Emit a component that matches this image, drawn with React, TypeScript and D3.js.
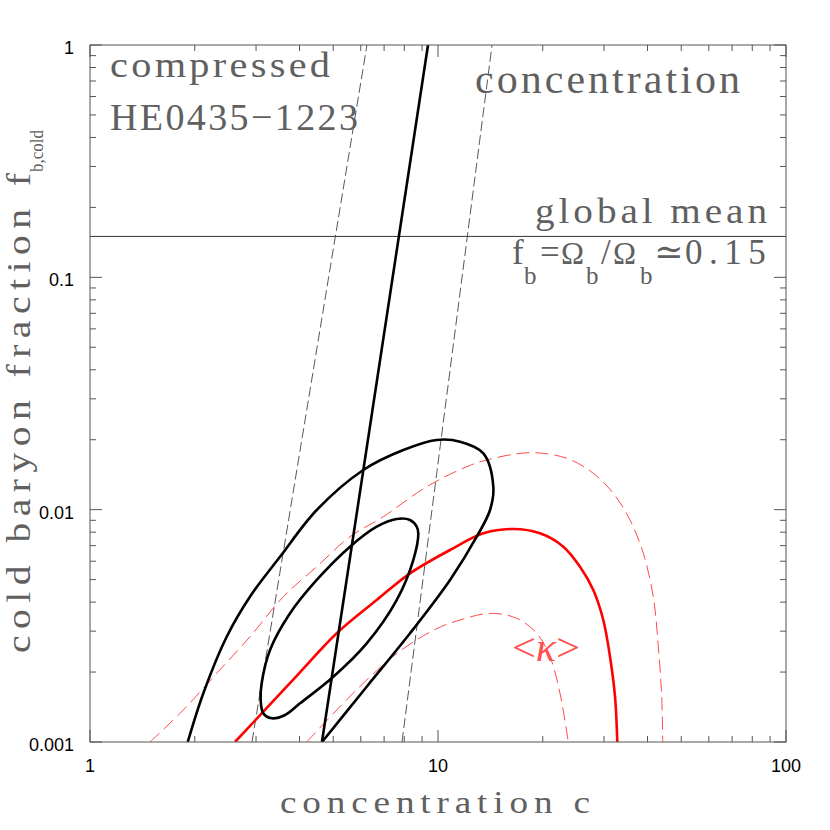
import React from "react";
import * as d3 from "d3";

// ---- data (concentration c, cold baryon fraction f) ----
const xTicks = [1, 10, 100];
const yTicks = [0.001, 0.01, 0.1, 1];
const xTickLabels = ["1", "10", "100"];
const yTickLabels = ["0.001", "0.01", "0.1", "1"];
const globalMean = 0.15;

const lensingLine: [number, number][] = [[4.64, 0.001], [9.36, 1]];
const dashLeft: [number, number][] = [[2.92, 0.001], [6.25, 1]];
const dashRight: [number, number][] = [[7.88, 0.001], [14.3, 1]];

const outerContour: [number, number][] = [
  [1.909, 0.001], [2.117, 0.001622], [2.471, 0.002839], [2.9, 0.00428],
  [3.516, 0.006272], [4.482, 0.009966], [6.1, 0.01482], [7.95, 0.01806],
  [9.914, 0.01995], [11.57, 0.01962], [13.5, 0.01748], [14.42, 0.01256],
  [14.11, 0.009966], [12.92, 0.00765], [10.83, 0.004981], [8.31, 0.002937],
  [6.239, 0.00173], [4.642, 0.001],
];

const innerContour: [number, number][] = [
  [3.148, 0.001328], [3.328, 0.001265], [3.634, 0.001307], [4.013, 0.001467],
  [5.003, 0.00191], [6.239, 0.002659], [7.607, 0.004084], [8.492, 0.006071],
  [8.778, 0.007913], [8.685, 0.008446], [8.31, 0.009026], [7.607, 0.009117],
  [6.666, 0.008446], [5.586, 0.006929], [4.482, 0.004981], [3.757, 0.00358],
  [3.291, 0.002489], [3.114, 0.001789], [3.093, 0.001516],
];

const kappaMean: [number, number][] = [
  [2.61, 0.001], [3.148, 0.00135], [4.013, 0.001995], [5.117, 0.002937],
  [6.666, 0.004084], [8.31, 0.005322], [10.83, 0.006706], [13.5, 0.007913],
  [16.46, 0.008254], [19.64, 0.007913], [22.91, 0.006929], [25.59, 0.005682],
  [27.94, 0.00451], [29.85, 0.00335], [31.21, 0.002329], [32.26, 0.001567],
  [32.75, 0.001],
];

const kappaUpper: [number, number][] = [
  [1.487, 0.001], [1.854, 0.001373], [2.312, 0.001975], [2.883, 0.002839],
  [3.593, 0.00422], [4.482, 0.005682], [5.586, 0.00765], [6.963, 0.009326],
  [9.28, 0.01256], [12.09, 0.0153], [13.8, 0.01636], [18.38, 0.01759],
  [23.43, 0.01664], [27.94, 0.01434], [31.89, 0.01176], [35.63, 0.009026],
  [38.9, 0.00649], [41.56, 0.00422], [42.96, 0.002572], [43.94, 0.001567],
  [44.23, 0.001],
];

const kappaLower: [number, number][] = [
  [4.195, 0.001], [5.117, 0.001373], [6.239, 0.001849], [7.778, 0.002464],
  [9.869, 0.003065], [11.57, 0.00335], [14.11, 0.00358], [16.83, 0.003407],
  [19.21, 0.002937], [20.98, 0.002329], [22.41, 0.001622], [23.68, 0.001],
];

const minorMult = [2, 3, 4, 5, 6, 7, 8, 9];

const SERIF = "'Liberation Serif', 'DejaVu Serif', serif";
const TEXT_GRAY = "#606060";

// Serif label: widened glyphs plus letter spacing to fill a measured width
function SText(props: {
  x: number; y: number; size: number; len: number; sx?: number; fill?: string; glyphs?: boolean;
  children: React.ReactNode;
}) {
  const sx = props.sx ?? 1.2;
  return (
    <g transform={`translate(${props.x},${props.y}) scale(${sx},1)`}>
      <text x={0} y={0} fontFamily={SERIF} fontSize={props.size} fill={props.fill ?? TEXT_GRAY}
        textLength={props.len / sx} lengthAdjust={props.glyphs ? "spacingAndGlyphs" : "spacing"}>
        {props.children}
      </text>
    </g>
  );
}

export default function App() {
  const L = 90, R = 786, T = 45, B = 742;
  const x = d3.scaleLog().domain([1, 100]).range([L, R]);
  const y = d3.scaleLog().domain([0.001, 1]).range([B, T]);

  const line = d3.line<[number, number]>().x((d) => x(d[0])).y((d) => y(d[1]));
  const smooth = d3.line<[number, number]>().x((d) => x(d[0])).y((d) => y(d[1])).curve(d3.curveCatmullRom.alpha(0.5));
  const closed = d3.line<[number, number]>().x((d) => x(d[0])).y((d) => y(d[1])).curve(d3.curveCatmullRomClosed.alpha(0.5));

  const xMinor: number[] = [];
  [1, 10].forEach((dec) => minorMult.forEach((m) => xMinor.push(dec * m)));
  const yMinor: number[] = [];
  [0.001, 0.01, 0.1].forEach((dec) => minorMult.forEach((m) => yMinor.push(dec * m)));

  const axisColor = "#555";
  const sans = "'Liberation Sans', Arial, sans-serif";
  const MAJ = 12, MIN = 6;
  const fy = 263.5, sy = 284;

  return (
    <svg width={830} height={830} style={{ position: "absolute", left: 0, top: 0, background: "#fff" }}>
      <defs>
        <clipPath id="plotClip">
          <rect x={L} y={T} width={R - L} height={B - T} />
        </clipPath>
      </defs>
      <rect x={0} y={0} width={830} height={830} fill="#fff" />

      {/* ticks */}
      <g stroke={axisColor} strokeWidth={1}>
        {xMinor.map((v, i) => (
          <g key={"xm" + i}>
            <line x1={x(v)} x2={x(v)} y1={B} y2={B - MIN} />
            <line x1={x(v)} x2={x(v)} y1={T} y2={T + MIN} />
          </g>
        ))}
        {xTicks.map((v, i) => (
          <g key={"xM" + i}>
            <line x1={x(v)} x2={x(v)} y1={B} y2={B - MAJ} />
            <line x1={x(v)} x2={x(v)} y1={T} y2={T + MAJ} />
          </g>
        ))}
        {yMinor.map((v, i) => (
          <g key={"ym" + i}>
            <line x1={L} x2={L + MIN} y1={y(v)} y2={y(v)} />
            <line x1={R} x2={R - MIN} y1={y(v)} y2={y(v)} />
          </g>
        ))}
        {yTicks.map((v, i) => (
          <g key={"yM" + i}>
            <line x1={L} x2={L + MAJ} y1={y(v)} y2={y(v)} />
            <line x1={R} x2={R - MAJ} y1={y(v)} y2={y(v)} />
          </g>
        ))}
      </g>

      {/* global mean line */}
      <line x1={L} x2={R} y1={y(globalMean)} y2={y(globalMean)} stroke="#333" strokeWidth={1} />

      <g clipPath="url(#plotClip)" fill="none">
        <path d={line(dashLeft) || ""} stroke="#444" strokeWidth={0.9} strokeDasharray="10,4" />
        <path d={line(dashRight) || ""} stroke="#444" strokeWidth={0.9} strokeDasharray="10,4" />
        <path d={smooth(kappaUpper) || ""} stroke="#ff4a4a" strokeWidth={1} strokeDasharray="13,6" />
        <path d={smooth(kappaLower) || ""} stroke="#ff4a4a" strokeWidth={1} strokeDasharray="13,6" />
        <path d={smooth(kappaMean) || ""} stroke="#ff0000" strokeWidth={2.6} />
        <path d={smooth(outerContour) || ""} stroke="#000" strokeWidth={2.6} />
        <path d={closed(innerContour) || ""} stroke="#000" strokeWidth={2.6} />
        <path d={line(lensingLine) || ""} stroke="#000" strokeWidth={2.6} />
      </g>

      {/* frame */}
      <rect x={L} y={T} width={R - L} height={B - T} fill="none" stroke={axisColor} strokeWidth={1} />

      {/* tick labels */}
      <g fontFamily={sans} fontSize={18} fill="#000">
        {xTicks.map((v, i) => (
          <text key={"xl" + i} x={x(v)} y={771.5} textAnchor="middle">{xTickLabels[i]}</text>
        ))}
        {yTicks.map((v, i) => (
          <text key={"yl" + i} x={74} y={y(v) + 9} textAnchor="end">{yTickLabels[i]}</text>
        ))}
      </g>

      {/* annotations */}
      <SText x={110} y={77} size={36} len={220} sx={1.12}>compressed</SText>
      <SText x={110} y={130} size={38} len={248} sx={1.0}>HE0435−1223</SText>
      <SText x={475} y={92.5} size={40} len={265} sx={1.05}>concentration</SText>
      <SText x={535} y={223} size={35} len={232} sx={1.12}>global mean</SText>

      <text fontFamily={SERIF} fill={TEXT_GRAY} fontSize={35}>
        <tspan x={512} y={fy}>f</tspan>
        <tspan x={524} y={sy} fontSize={25}>b</tspan>
        <tspan x={540} y={fy}>=</tspan>
        <tspan x={561} y={fy} fontSize={31}>Ω</tspan>
        <tspan x={586} y={sy} fontSize={25}>b</tspan>
        <tspan x={601} y={fy}>/</tspan>
        <tspan x={613} y={fy} fontSize={31}>Ω</tspan>
        <tspan x={640} y={sy} fontSize={25}>b</tspan>
        <tspan x={654} y={fy}>≃</tspan>
        <tspan x={685} y={fy} letterSpacing={6.5}>0.15</tspan>
      </text>

      <SText x={280} y={813} size={31} len={310}>concentration c</SText>

      <g transform="translate(30,653) rotate(-90)">
        <SText x={0} y={0} size={33} len={480}>cold baryon fraction f</SText>
        <SText x={481} y={12.5} size={19} len={42} sx={1.0} glyphs>b,cold</SText>
      </g>

      <text x={512} y={661} fontFamily={SERIF} fontSize={40} fill="#ff5050" textLength={68} lengthAdjust="spacingAndGlyphs">
        {"<"}<tspan fontStyle="italic">κ</tspan>{">"}
      </text>
    </svg>
  );
}
